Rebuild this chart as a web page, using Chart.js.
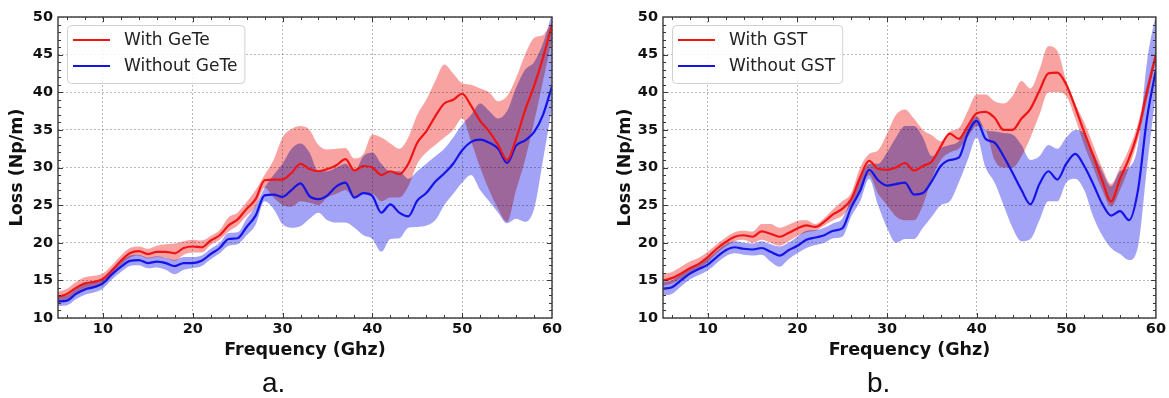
<!DOCTYPE html>
<html>
<head>
<meta charset="utf-8">
<script src="https://cdn.jsdelivr.net/npm/chart.js@4.4.1/dist/chart.umd.min.js"></script>
<style>
  html, body { margin: 0; padding: 0; background: #fff; }
  body { width: 1169px; height: 398px; position: relative; overflow: hidden; }
  canvas { position: absolute; top: 0; }
  #chartA { left: 0; }
  #chartB { left: 585px; }
  .tag { position: absolute; top: 369px; font: 28px 'Liberation Sans', Arial, sans-serif; line-height: 28px; color: #111; }
</style>
</head>
<body>
<canvas id="chartA" width="585" height="398" style="width:585px;height:398px"></canvas>
<canvas id="chartB" width="584" height="398" style="width:584px;height:398px"></canvas>
<div class="tag" style="left:262px">a.</div>
<div class="tag" style="left:867px">b.</div>
<script>
// ── Data ──────────────────────────────────────────────────
const freq = [5,6,7,8,9,10,11,12,13,14,15,16,17,18,19,20,21,22,23,24,25,26,27,28,29,30,
              31,32,33,34,35,36,37,38,39,40,41,42,43,44,45,46,47,48,49,50,51,52,53,54,55,56,57,58,59,60];
const xTickValues = [10, 20, 30, 40, 50, 60];
const yTickValues = [10, 15, 20, 25, 30, 35, 40, 45, 50];

// panel a. (GeTe)
const geteWith = [12.8,13.2,14.0,14.6,14.8,15.2,16.3,17.6,18.6,18.9,18.5,18.8,18.8,18.6,19.3,19.5,19.4,20.3,21.0,22.3,23.1,24.5,25.8,28.3,28.4,28.4,
                  29.3,30.5,29.8,29.5,29.8,30.3,31.1,29.6,30.2,30.0,29.0,29.5,29.1,30.5,33.3,34.8,36.8,38.5,39.0,39.8,38.2,36.2,34.8,33.0,31.0,33.8,37.6,40.8,44.6,49.0];
const geteWithHi = [13.5,13.9,14.8,15.4,15.6,15.9,17.0,18.3,19.3,19.5,19.2,19.6,19.8,19.9,20.2,20.4,20.3,20.9,21.7,23.4,24.0,25.4,27.0,29.0,31.0,34.0,
                    35.1,35.5,35.0,33.0,32.4,32.5,32.6,31.2,31.8,34.4,34.0,33.2,32.5,34.0,37.0,39.0,41.5,43.7,42.5,41.2,41.0,40.5,40.0,38.8,39.5,41.9,45.0,47.2,47.6,49.3];
const geteWithLo = [12.2,12.5,13.3,13.9,14.1,14.6,15.7,17.0,18.0,18.3,17.9,18.1,18.0,17.6,18.4,18.7,18.7,19.7,20.4,21.5,22.3,23.6,24.8,27.3,26.0,25.0,
                    24.8,25.5,25.3,25.0,26.0,26.5,27.0,26.0,26.5,26.5,25.5,26.0,26.0,27.5,30.5,32.0,33.0,34.0,35.0,36.5,33.5,30.0,27.0,24.5,22.8,27.0,31.0,36.0,41.5,47.0];
const geteWithout = [12.2,12.3,13.2,13.8,14.1,14.6,15.8,16.8,17.6,17.7,17.3,17.5,17.3,16.9,17.3,17.3,17.6,18.5,19.3,20.5,20.6,22.1,23.6,26.3,26.4,26.1,
                     27.0,27.9,26.2,25.8,26.3,27.5,28.0,26.0,26.6,26.2,24.0,25.1,24.0,23.5,25.6,26.6,28.1,29.2,30.5,32.3,33.4,33.7,33.3,32.5,30.6,32.9,33.6,34.7,37.0,40.8];
const geteWithoutHi = [12.9,13.0,13.9,14.5,14.8,15.3,16.5,17.5,18.3,18.4,18.0,18.2,18.0,17.7,18.1,18.1,18.3,19.2,20.0,21.3,21.4,23.2,24.9,27.3,29.0,30.5,
                       32.5,33.2,32.0,29.5,29.5,30.0,30.5,29.5,31.5,32.0,30.5,29.5,29.5,28.5,29.5,30.5,31.5,32.5,34.0,35.7,37.0,38.5,37.5,36.5,37.5,40.6,43.0,44.0,46.5,50.5];
const geteWithoutLo = [11.6,11.7,12.5,13.1,13.4,13.9,15.1,16.1,16.9,17.0,16.6,16.7,16.4,15.8,16.4,16.6,16.9,17.8,18.6,19.6,19.8,21.0,22.4,25.5,24.5,22.5,
                       22.0,22.2,23.2,24.0,23.0,22.7,22.7,22.0,21.0,20.5,18.8,20.5,20.6,22.0,22.1,22.3,23.0,25.0,26.5,28.0,29.0,27.0,25.5,24.0,22.6,23.2,22.8,24.5,31.0,38.0];

// panel b. (GST)
const gstWith = [15.0,15.3,15.9,16.6,17.2,18.1,19.2,20.1,20.8,21.0,20.8,21.5,21.2,20.8,21.3,21.9,22.3,22.1,22.8,23.8,24.5,25.8,28.7,30.9,29.8,29.7,
                 30.0,30.6,29.6,30.2,30.8,32.8,34.5,33.8,35.5,37.2,37.4,36.6,35.0,35.0,36.5,37.8,40.2,42.5,42.6,41.0,38.0,34.7,31.6,28.3,25.5,28.5,31.2,34.8,40.0,45.0];
const gstWithHi = [15.9,16.1,16.8,17.5,18.0,18.8,19.8,20.7,21.4,21.6,21.5,22.5,22.5,22.0,22.4,22.9,23.0,22.5,23.3,24.5,25.5,26.6,30.0,31.8,32.3,34.5,
                   37.0,37.7,36.5,35.0,34.3,33.5,34.8,35.2,37.5,39.7,39.7,38.8,38.5,39.5,41.5,40.5,43.0,46.1,45.5,41.5,38.5,36.0,33.0,30.0,27.8,30.0,32.5,35.8,41.0,45.5];
const gstWithLo = [14.3,14.6,15.2,15.9,16.5,17.4,18.6,19.5,20.2,20.4,20.0,20.4,20.0,19.6,20.2,20.9,21.4,21.6,22.3,23.0,23.6,25.0,27.0,29.0,26.5,25.0,
                   23.5,23.0,23.0,25.0,28.5,31.0,32.0,32.5,34.0,35.5,35.0,31.0,30.0,30.0,31.5,34.0,37.0,40.0,40.0,39.5,36.5,33.0,30.0,27.0,24.8,27.0,30.0,33.8,39.0,44.5];
const gstWithout = [13.9,14.1,15.0,15.9,16.5,17.1,18.1,19.0,19.4,19.2,19.1,19.3,18.8,18.3,19.0,19.6,20.4,20.7,21.0,21.6,21.9,24.7,26.9,29.7,28.3,27.6,
                    27.8,28.0,26.4,26.6,28.2,30.2,31.0,31.3,34.5,36.2,33.8,33.3,31.5,29.3,27.0,25.1,27.8,29.5,28.4,30.5,31.8,30.2,27.8,25.2,23.6,24.2,23.0,27.0,36.5,43.0];
const gstWithoutHi = [14.8,15.0,15.8,16.7,17.3,17.9,18.9,19.8,20.2,20.0,19.9,20.2,19.8,19.5,20.0,20.8,21.6,21.7,22.0,22.6,23.2,25.8,28.5,30.5,30.5,32.0,
                      34.0,35.5,35.5,34.0,31.5,32.6,33.0,33.5,35.5,36.8,35.0,34.8,34.6,34.4,33.0,31.0,31.5,33.0,32.5,34.0,35.0,34.5,32.0,29.5,27.5,29.5,30.0,33.0,44.0,50.5];
const gstWithoutLo = [13.0,13.2,14.2,15.1,15.7,16.3,17.3,18.2,18.6,18.4,18.3,18.4,17.5,16.8,17.8,18.6,19.3,19.7,20.0,20.6,20.8,23.5,25.5,28.5,25.0,22.0,
                      20.0,20.5,20.5,22.0,23.5,25.0,25.5,28.0,31.0,34.0,30.0,28.0,25.0,22.0,20.2,20.5,23.0,25.5,25.5,28.0,28.5,27.0,23.5,21.0,19.3,18.5,17.7,19.5,30.0,40.0];

// ── Style ─────────────────────────────────────────────────
const COLORS = {
  red:      '#f01414',
  blue:     '#1414e8',
  redBand:  '#f9a2a2',
  blueBand: '#a2a2f6',
  grid:     '#a8a8a8',
  frame:    '#383838',
  text:     '#111111'
};

Chart.defaults.font.family = "'DejaVu Sans', sans-serif";
Chart.defaults.color = COLORS.text;

// frame, inward ticks, multiply-blended bands and boxed legend
const axesDecor = {
  id: 'axesDecor',
  beforeDraw(chart) {
    const ctx = chart.ctx;
    ctx.save();
    ctx.fillStyle = '#fff';
    ctx.fillRect(0, 0, chart.width, chart.height);
    ctx.globalCompositeOperation = 'multiply';
  },
  beforeDatasetsDraw(chart) {
    // filler has already painted the bands (drawTime beforeDatasetsDraw)
    chart.ctx.restore();
  },
  afterDatasetsDraw(chart) {
    const {ctx, chartArea: a, scales: {x, y}} = chart;
    ctx.save();
    ctx.strokeStyle = COLORS.frame;
    ctx.lineWidth = 1;
    const tick = (px, py, dx, dy) => { ctx.beginPath(); ctx.moveTo(px, py); ctx.lineTo(px + dx, py + dy); ctx.stroke(); };
    for (let v = x.min + 1; v < x.max; v += 1) {
      if (v % 2) continue;
      const len = xTickValues.includes(v) ? 5 : 3;
      const px = Math.round(x.getPixelForValue(v)) + 0.5;
      tick(px, a.bottom, 0, -len);
      tick(px, a.top, 0, len);
    }
    for (let v = y.min + 1; v < y.max; v += 1) {
      const len = yTickValues.includes(v) ? 5 : 3;
      const py = Math.round(y.getPixelForValue(v)) + 0.5;
      tick(a.left, py, len, 0);
      tick(a.right, py, -len, 0);
    }
    ctx.lineWidth = 1.4;
    ctx.strokeRect(a.left, a.top, a.right - a.left, a.bottom - a.top);
    ctx.restore();
  },
  afterDraw(chart) {
    const {ctx, chartArea: a} = chart;
    const items = chart.data.datasets.filter(d => d.label);
    ctx.save();
    ctx.font = "17px 'DejaVu Sans', sans-serif";
    const textW = Math.max(...items.map(d => ctx.measureText(d.label).width));
    const bx = a.left + 9, by = a.top + 8;
    const bw = 6 + 37 + 14 + textW + 7, bh = 58;
    ctx.beginPath();
    ctx.roundRect(bx + 0.5, by + 0.5, bw, bh, 4);
    ctx.fillStyle = 'rgba(255,255,255,0.85)';
    ctx.fill();
    ctx.strokeStyle = '#d0d0d0';
    ctx.lineWidth = 1;
    ctx.stroke();
    items.forEach((d, i) => {
      const cy = by + 15 + i * 26;
      ctx.strokeStyle = d.borderColor;
      ctx.lineWidth = 2.2;
      ctx.beginPath();
      ctx.moveTo(bx + 6, cy);
      ctx.lineTo(bx + 43, cy);
      ctx.stroke();
      ctx.fillStyle = '#222';
      ctx.textBaseline = 'middle';
      ctx.fillText(d.label, bx + 57, cy + 1);
    });
    ctx.restore();
  }
};

// ── Chart builder ─────────────────────────────────────────
function lossChart(id, names, series, box) {
  const mean = (label, data, color) => ({
    label, data, borderColor: color, borderWidth: 2.2,
    pointRadius: 0, fill: false, cubicInterpolationMode: 'monotone'
  });
  const band = (data, color, fill) => ({
    data, borderWidth: 0, borderColor: 'transparent', backgroundColor: color,
    pointRadius: 0, fill, cubicInterpolationMode: 'monotone'
  });

  return new Chart(document.getElementById(id), {
    type: 'line',
    data: {
      labels: freq,
      datasets: [
        mean(names[0], series.with, COLORS.red),
        mean(names[1], series.without, COLORS.blue),
        band(series.withHi, COLORS.redBand, '+1'),
        band(series.withLo, COLORS.redBand, false),
        band(series.withoutHi, COLORS.blueBand, '+1'),
        band(series.withoutLo, COLORS.blueBand, false)
      ]
    },
    options: {
      responsive: false,
      animation: false,
      layout: { padding: { left: 0, right: box.padRight, top: 17, bottom: 0 } },
      plugins: {
        legend:  { display: false },
        tooltip: { enabled: false },
        filler:  { drawTime: 'beforeDatasetsDraw' }
      },
      scales: {
        x: {
          type: 'linear', min: 5, max: 60,
          afterBuildTicks: s => { s.ticks = xTickValues.map(v => ({ value: v })); },
          afterFit: s => { s.height = 80; },
          grid:   { color: COLORS.grid, lineWidth: 0.8, drawTicks: false },
          border: { display: false, dash: [2, 2] },
          ticks:  { padding: 3, font: { size: 14.5, weight: 'bold' }, color: COLORS.text, maxRotation: 0 },
          title:  { display: true, text: 'Frequency (Ghz)', color: COLORS.text,
                    font: { size: 17.5, weight: 'bold' }, padding: { top: 0, bottom: 37.5 } }
        },
        y: {
          min: 10, max: 50,
          afterBuildTicks: s => { s.ticks = yTickValues.map(v => ({ value: v })); },
          afterFit: s => { s.width = box.axisWidth; },
          grid:   { color: COLORS.grid, lineWidth: 0.8, drawTicks: false },
          border: { display: false, dash: [2, 2] },
          ticks:  { padding: 5, font: { size: 14.5, weight: 'bold' }, color: COLORS.text },
          title:  { display: true, text: 'Loss (Np/m)', color: COLORS.text,
                    font: { size: 17.5, weight: 'bold' }, padding: { top: box.titlePad, bottom: 0 } }
        }
      }
    },
    plugins: [axesDecor]
  });
}

lossChart('chartA', ['With GeTe', 'Without GeTe'], {
  with: geteWith, withHi: geteWithHi, withLo: geteWithLo,
  without: geteWithout, withoutHi: geteWithoutHi, withoutLo: geteWithoutLo
}, { padRight: 33, axisWidth: 58, titlePad: 7 });

lossChart('chartB', ['With GST', 'Without GST'], {
  with: gstWith, withHi: gstWithHi, withLo: gstWithLo,
  without: gstWithout, withoutHi: gstWithoutHi, withoutLo: gstWithoutLo
}, { padRight: 11, axisWidth: 78, titlePad: 29.5 });
</script>
</body>
</html>
